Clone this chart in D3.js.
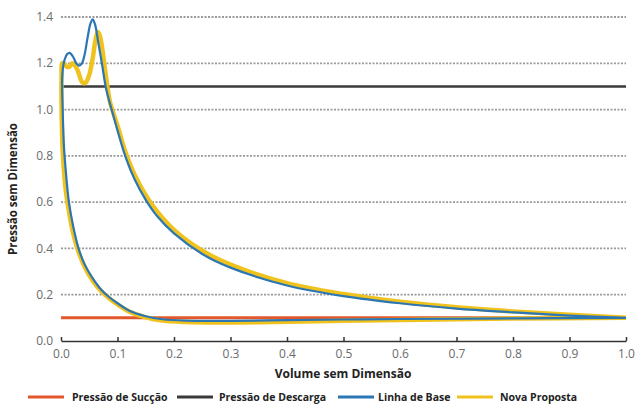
<!DOCTYPE html>
<html>
<head>
<meta charset="utf-8">
<script src="https://cdn.jsdelivr.net/npm/d3@7.9.0/dist/d3.min.js"></script>
<style>
  body { margin: 0; background: #fff; }
  svg { display: block; font-family: "Open Sans", "Liberation Sans", sans-serif; }
</style>
</head>
<body>
<svg width="637" height="407"></svg>
<script>
// axis ticks
const xTicks = [0, 0.1, 0.2, 0.3, 0.4, 0.5, 0.6, 0.7, 0.8, 0.9, 1.0];
const yTicks = [0, 0.2, 0.4, 0.6, 0.8, 1.0, 1.2, 1.4];

// constant pressure lines
const suctionVol = [0, 1.0];
const suctionPres = [0.1, 0.1];
const dischargeVol = [0, 1.0];
const dischargePres = [1.1, 1.1];

// Linha de Base (closed cycle)
const baseVol = [1.0, 0.9, 0.8, 0.7, 0.6, 0.5, 0.4, 0.3, 0.25, 0.2, 0.17, 0.15, 0.13, 0.115, 0.1, 0.092, 0.085,
  0.079, 0.073, 0.066, 0.06, 0.056, 0.052, 0.047, 0.042, 0.037, 0.032, 0.027, 0.021, 0.015, 0.011, 0.007, 0.004, 0.002,
  0.003, 0.005, 0.009, 0.014, 0.022, 0.031, 0.042, 0.055, 0.07, 0.085, 0.1, 0.12, 0.15, 0.18, 0.22, 0.3, 0.4, 0.5, 0.6, 0.8, 1.0];
const basePres = [0.1, 0.11, 0.124, 0.14, 0.163, 0.194, 0.24, 0.317, 0.376, 0.465, 0.54, 0.61, 0.70, 0.79, 0.91, 0.98, 1.04,
  1.1, 1.19, 1.29, 1.37, 1.39, 1.37, 1.31, 1.24, 1.2, 1.19, 1.2, 1.23, 1.245, 1.24, 1.22, 1.19, 1.13,
  1.0, 0.85, 0.72, 0.6, 0.49, 0.4, 0.33, 0.275, 0.225, 0.19, 0.163, 0.132, 0.107, 0.094, 0.088, 0.087, 0.09, 0.093, 0.095, 0.098, 0.1];

// Nova Proposta
const propVol = [1.0, 0.9, 0.8, 0.7, 0.6, 0.5, 0.4, 0.3, 0.25, 0.2, 0.17, 0.15, 0.13, 0.115, 0.1, 0.092, 0.087,
  0.082, 0.077, 0.072, 0.068, 0.065, 0.061, 0.056, 0.05, 0.043, 0.037, 0.031, 0.025, 0.02, 0.015, 0.01, 0.005, 0.002, 0.001,
  0.001, 0.003, 0.008, 0.014, 0.022, 0.031, 0.042, 0.055, 0.07, 0.085, 0.1, 0.12, 0.15, 0.18, 0.22, 0.3, 0.4, 0.5, 0.6, 0.8, 1.0];
const propPres = [0.1, 0.113, 0.128, 0.146, 0.17, 0.203, 0.25, 0.33, 0.39, 0.48, 0.56, 0.63, 0.72, 0.81, 0.93, 0.99, 1.03,
  1.1, 1.19, 1.28, 1.325, 1.335, 1.3, 1.22, 1.15, 1.115, 1.12, 1.16, 1.19, 1.2, 1.185, 1.185, 1.2, 1.2, 1.15,
  1.0, 0.82, 0.66, 0.56, 0.46, 0.385, 0.32, 0.265, 0.218, 0.185, 0.158, 0.128, 0.102, 0.088, 0.082, 0.08, 0.083, 0.087, 0.091, 0.097, 0.1];

const svg = d3.select('svg');
const margin = { left: 61, right: 11, top: 17, bottom: 66 };
const W = 637, H = 407;

const x = d3.scaleLinear().domain([0, 1]).range([margin.left, W - margin.right]);
const y = d3.scaleLinear().domain([0, 1.4]).range([H - margin.bottom, margin.top]);

// dotted gridlines
svg.append('g')
  .selectAll('line')
  .data(yTicks.filter(d => d > 0))
  .join('line')
  .attr('x1', x(0)).attr('x2', x(1))
  .attr('y1', d => y(d)).attr('y2', d => y(d))
  .attr('stroke', '#9a9a9a')
  .attr('stroke-width', 1.8)
  .attr('stroke-dasharray', '2,1.5');

// y labels
svg.append('g')
  .selectAll('text')
  .data(yTicks)
  .join('text')
  .attr('x', x(0) - 8)
  .attr('y', d => y(d))
  .attr('dy', '0.35em')
  .attr('text-anchor', 'end')
  .attr('fill', '#6b6b6b')
  .attr('font-size', 12)
  .text(d => d.toFixed(1));

// x axis
const xAxis = svg.append('g')
  .attr('transform', `translate(0,${y(0)})`)
  .call(d3.axisBottom(x).tickValues(xTicks).tickSizeInner(-4).tickSizeOuter(0).tickPadding(8).tickFormat(d3.format('.1f')));
xAxis.select('.domain').attr('stroke', '#333').attr('stroke-width', 1.5);
xAxis.selectAll('.tick line').attr('stroke', '#333').attr('stroke-width', 1.5);
xAxis.selectAll('.tick text').attr('fill', '#6b6b6b').attr('font-size', 12).attr('font-family', '"Open Sans", sans-serif');

// titles
svg.append('text')
  .attr('x', 343).attr('y', 378)
  .attr('text-anchor', 'middle')
  .attr('font-size', 12).attr('font-weight', 'bold').attr('fill', '#222')
  .text('Volume sem Dimensão');
svg.append('text')
  .attr('transform', 'translate(17,189) rotate(-90)')
  .attr('text-anchor', 'middle')
  .attr('font-size', 11.5).attr('font-weight', 'bold').attr('fill', '#222')
  .text('Pressão sem Dimensão');

const line = d3.line().x(d => x(d[0])).y(d => y(d[1]));
const curve = d3.line().x(d => x(d[0])).y(d => y(d[1])).curve(d3.curveCatmullRom.alpha(0.5));
const zip = (a, b) => a.map((v, i) => [v, b[i]]);

const colors = { suc: '#e2572b', dis: '#3a3a3a', base: '#2b77b5', prop: '#f0c21e' };

svg.append('path').datum(zip(dischargeVol, dischargePres)).attr('d', line)
  .attr('fill', 'none').attr('stroke', colors.dis).attr('stroke-width', 2.5);
svg.append('path').datum(zip(suctionVol, suctionPres)).attr('d', line)
  .attr('fill', 'none').attr('stroke', colors.suc).attr('stroke-width', 3);
svg.append('path').datum(zip(propVol, propPres)).attr('d', curve)
  .attr('fill', 'none').attr('stroke', colors.prop).attr('stroke-width', 4.5).attr('stroke-linejoin', 'round');
svg.append('path').datum(zip(baseVol, basePres)).attr('d', curve)
  .attr('fill', 'none').attr('stroke', colors.base).attr('stroke-width', 2.2).attr('stroke-linejoin', 'round');

// legend
const legendItems = [
  { label: 'Pressão de Sucção', color: colors.suc, x: 28, gap: 44 },
  { label: 'Pressão de Descarga', color: colors.dis, x: 177, gap: 42 },
  { label: 'Linha de Base', color: colors.base, x: 338, gap: 40 },
  { label: 'Nova Proposta', color: colors.prop, x: 457, gap: 43 }
];
const lg = svg.append('g').selectAll('g').data(legendItems).join('g')
  .attr('transform', d => `translate(${d.x},397)`);
lg.append('line').attr('x1', 0).attr('x2', 36).attr('y1', 0).attr('y2', 0)
  .attr('stroke', d => d.color).attr('stroke-width', 3);
lg.append('text').attr('x', d => d.gap).attr('dy', '0.35em')
  .attr('font-size', 10.5).attr('font-weight', 'bold').attr('fill', '#222')
  .text(d => d.label);
</script>
</body>
</html>
